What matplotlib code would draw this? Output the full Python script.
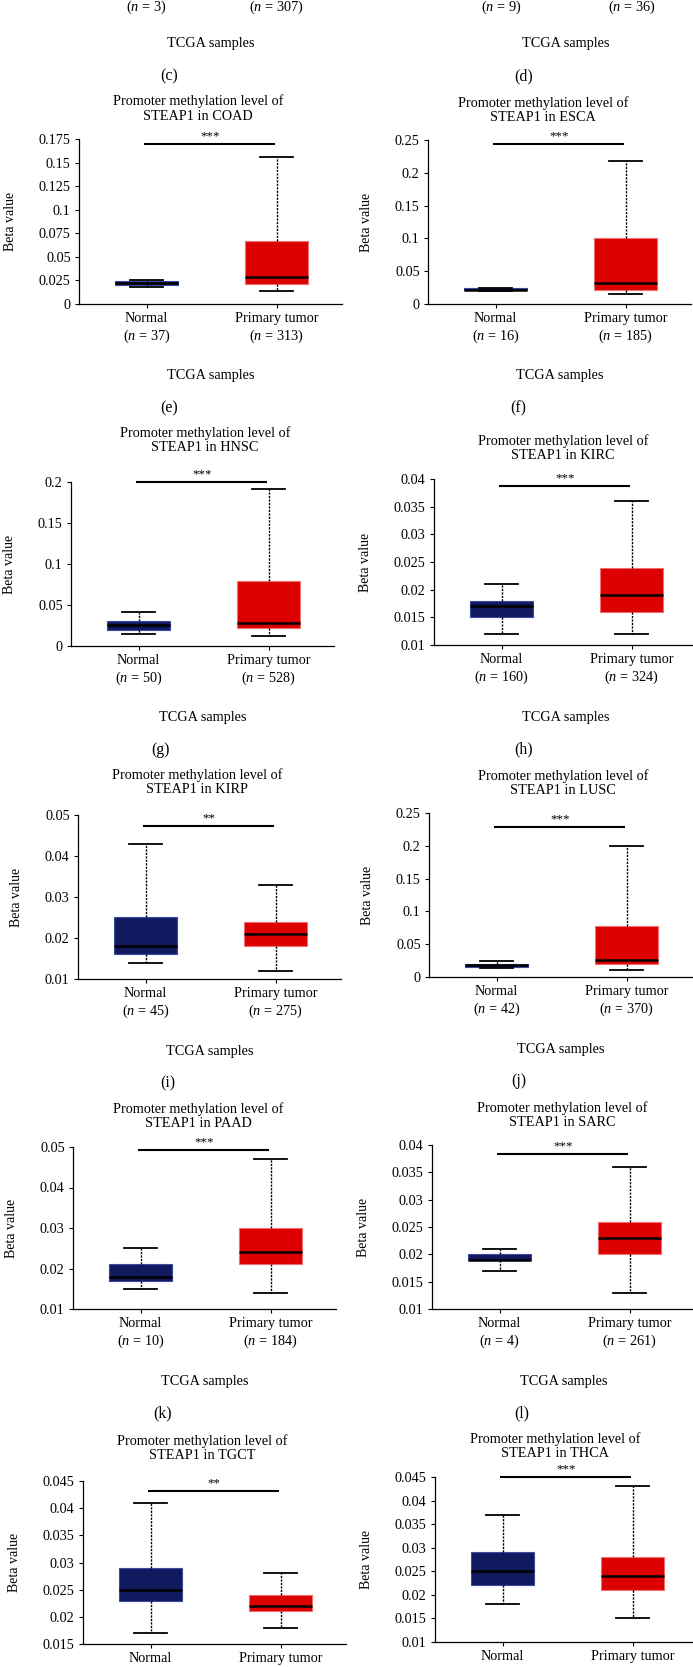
import numpy as np
import matplotlib.pyplot as plt

plt.rcParams['font.family'] = ['Liberation Serif', 'DejaVu Serif']
plt.rcParams['mathtext.fontset'] = 'custom'
plt.rcParams['mathtext.it'] = 'Liberation Serif:italic'
plt.rcParams['mathtext.rm'] = 'Liberation Serif'

# data
cancers = ['COAD', 'ESCA', 'HNSC', 'KIRC', 'KIRP', 'LUSC', 'PAAD', 'SARC', 'TGCT', 'THCA']
panel_letters = ['e', 'f', 'g', 'h', 'i', 'j', 'k', 'l', 'm', 'n']
n_normal = [37, 16, 50, 160, 45, 42, 10, 4, None, None]
n_tumor = [313, 185, 528, 324, 275, 370, 184, 261, None, None]

# (whisker low, q1, median, q3, whisker high)
normal_stats = [
    (0.018, 0.020, 0.022, 0.024, 0.025),
    (0.020, 0.021, 0.022, 0.024, 0.025),
    (0.015, 0.020, 0.025, 0.030, 0.042),
    (0.012, 0.015, 0.017, 0.018, 0.021),
    (0.014, 0.016, 0.018, 0.025, 0.043),
    (0.013, 0.016, 0.018, 0.020, 0.025),
    (0.015, 0.017, 0.018, 0.021, 0.025),
    (0.017, 0.019, 0.019, 0.020, 0.021),
    (0.017, 0.023, 0.025, 0.029, 0.041),
    (0.018, 0.022, 0.025, 0.029, 0.037),
]
tumor_stats = [
    (0.014, 0.021, 0.029, 0.067, 0.156),
    (0.015, 0.021, 0.032, 0.100, 0.218),
    (0.012, 0.022, 0.028, 0.079, 0.191),
    (0.012, 0.016, 0.019, 0.024, 0.036),
    (0.012, 0.018, 0.021, 0.024, 0.033),
    (0.010, 0.020, 0.026, 0.077, 0.199),
    (0.014, 0.021, 0.024, 0.030, 0.047),
    (0.013, 0.020, 0.023, 0.026, 0.036),
    (0.018, 0.021, 0.022, 0.024, 0.028),
    (0.015, 0.021, 0.024, 0.028, 0.043),
]
y_ticks = [
    [0, 0.025, 0.05, 0.075, 0.1, 0.125, 0.15, 0.175],
    [0, 0.05, 0.1, 0.15, 0.2, 0.25],
    [0, 0.05, 0.1, 0.15, 0.2],
    [0.01, 0.015, 0.02, 0.025, 0.03, 0.035, 0.04],
    [0.01, 0.02, 0.03, 0.04, 0.05],
    [0, 0.05, 0.1, 0.15, 0.2, 0.25],
    [0.01, 0.02, 0.03, 0.04, 0.05],
    [0.01, 0.015, 0.02, 0.025, 0.03, 0.035, 0.04],
    [0.015, 0.02, 0.025, 0.03, 0.035, 0.04, 0.045],
    [0.01, 0.015, 0.02, 0.025, 0.03, 0.035, 0.04, 0.045],
]
sig_stars = ['***', '***', '***', '***', '**', '***', '***', '***', '**', '***']
sig_level = [0.170, 0.244, 0.200, 0.0387, 0.0473, 0.229, 0.0493, 0.0384, 0.0432, 0.045]

# leftovers of panels (c) and (d) at the top edge
top_letters = ['c', 'd']
top_n_normal = [3, 9]
top_n_tumor = [307, 36]

W, H = 693, 1667
NAVY = '#121a5f'
RED = '#dc0000'
FS = 10.3
PX_PER_CAT = 130
XLIM = (0.48, 2.5)

# pixel layout: axes left, axes top, axes bottom, title centre x, title 2nd line y
layout = [
    (79, 139, 304, 198, 122),
    (428, 140, 304, 543, 123),
    (71, 482, 646, 205, 453),
    (434, 479, 645, 563, 461),
    (78, 815, 979, 197, 795),
    (429, 813, 977, 563, 796),
    (73, 1147, 1309, 198, 1129),
    (432, 1145, 1309, 562, 1128),
    (83, 1481, 1644, 202, 1461),
    (435, 1477, 1642, 555, 1459),
]
top_axes_left = [79, 434]


def fx(x):
    return x / W


def fy(y):
    return 1 - y / H


def fmt(v):
    return f'{round(v, 4):g}'


def stats_dict(s):
    return dict(whislo=s[0], q1=s[1], med=s[2], q3=s[3], whishi=s[4])


def n_label(name, n):
    if n is None:
        return name
    return f'{name}\n($n$ = {n})'


fig = plt.figure(figsize=(W / 100, H / 100), dpi=100)
ax_w = (XLIM[1] - XLIM[0]) * PX_PER_CAT

for i, cancer in enumerate(cancers):
    left, top, bottom, tcx, t2y = layout[i]
    ax = fig.add_axes([fx(left), fy(bottom), ax_w / W, (bottom - top) / H])

    for pos, st, col, edge in [(1, normal_stats[i], NAVY, '#3b4aa0'),
                               (2, tumor_stats[i], RED, '#f07070')]:
        ax.bxp([stats_dict(st)], positions=[pos], widths=0.49, capwidths=0.25,
               patch_artist=True, showfliers=False,
               boxprops=dict(facecolor=col, edgecolor=edge, linewidth=0.8),
               whiskerprops=dict(color='black', linewidth=1.0, linestyle=(0, (1.6, 0.9))),
               capprops=dict(color='black', linewidth=1.3),
               medianprops=dict(color='black', linewidth=1.8))

    ax.set_xlim(*XLIM)
    ax.set_ylim(y_ticks[i][0], y_ticks[i][-1])
    ax.set_yticks(y_ticks[i])
    ax.set_yticklabels([fmt(v) for v in y_ticks[i]], fontsize=FS)
    ax.set_xticks([1, 2])
    ax.set_xticklabels([n_label('Normal', n_normal[i]), n_label('Primary tumor', n_tumor[i])],
                       fontsize=FS, linespacing=1.15)
    ax.tick_params(axis='both', length=3, width=0.8, pad=3, direction='out')
    for side in ['top', 'right']:
        ax.spines[side].set_visible(False)
    for side in ['left', 'bottom']:
        ax.spines[side].set_linewidth(0.9)
    ax.set_ylabel('Beta value', fontsize=FS - 0.3, labelpad=16)

    # significance bar
    ax.plot([0.98, 1.99], [sig_level[i]] * 2, color='black', linewidth=1.5,
            clip_on=False, solid_capstyle='butt')
    ax.annotate(sig_stars[i], (1.485, sig_level[i]), xytext=(0, 1), textcoords='offset points',
                ha='center', va='bottom', fontsize=FS - 1, annotation_clip=False)

    fig.text(fx(tcx), fy(t2y + 1), f'Promoter methylation level of\nSTEAP1 in {cancer}',
             ha='center', va='bottom', fontsize=FS, linespacing=1.15)
    fig.text(fx(left + ax_w / 2), fy(bottom + 72), 'TCGA samples', ha='center', va='center',
             fontsize=FS)
    fig.text(fx(left + 90), fy(bottom + 104), f'({panel_letters[i]})', ha='center',
             va='center', fontsize=FS + 1)

for i, left in enumerate(top_axes_left):
    x1 = left + (1 - XLIM[0]) * PX_PER_CAT
    x2 = x1 + PX_PER_CAT
    fig.text(fx(x1), fy(7), f'($n$ = {top_n_normal[i]})', ha='center', va='center', fontsize=FS)
    fig.text(fx(x2), fy(7), f'($n$ = {top_n_tumor[i]})', ha='center', va='center', fontsize=FS)
    fig.text(fx(left + ax_w / 2), fy(44), 'TCGA samples', ha='center', va='center', fontsize=FS)
    fig.text(fx(left + 90), fy(76), f'({top_letters[i]})', ha='center', va='center',
             fontsize=FS + 1)

fig.savefig('out.png', dpi=100)
